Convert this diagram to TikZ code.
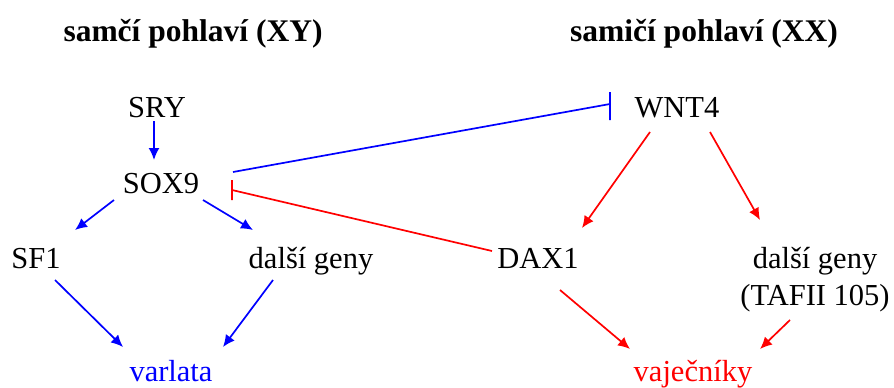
\documentclass[tikz,border=0pt]{standalone}
\usepackage{fontspec}
\setmainfont{Liberation Serif}
\usetikzlibrary{arrows.meta,calc}
\definecolor{gblue}{RGB}{0,0,255}
\definecolor{gred}{RGB}{255,0,0}
\tikzset{
  lbl/.style={anchor=base,inner sep=0pt,font=\fontsize{30.5}{37}\selectfont},
  ttl/.style={anchor=base,inner sep=0pt,font=\fontsize{31.5}{37}\selectfont\bfseries},
  barr/.style={draw=gblue,line width=1.7pt,-{Latex[length=12pt,width=11pt]}},
  rarr/.style={draw=gred,line width=1.7pt,-{Latex[length=12pt,width=11pt]}},
  binh/.style={draw=gblue,line width=1.7pt},
  rinh/.style={draw=gred,line width=1.7pt},
}
\begin{document}
\begin{tikzpicture}[x=1pt,y=-1pt]
\useasboundingbox (0,0) rectangle (894,388);
\node[ttl] (tl) at (193,41) {samčí pohlaví (XY)};
\node[ttl] (tr) at (704,41) {samičí pohlaví (XX)};
\node[lbl] (sry) at (157,117) {SRY};
\node[lbl] (sox9) at (161,193) {SOX9};
\node[lbl] (wnt4) at (677,117) {WNT4};
\node[lbl] (sf1) at (36,268) {SF1};
\node[lbl] (dalsiL) at (311,268) {další geny};
\node[lbl] (dax1) at (538,268) {DAX1};
\node[lbl,align=center] (dalsiR) at (815,305) {další geny\\(TAFII 105)};
\node[lbl,text=gblue] (varlata) at (171,381) {varlata};
\node[lbl,text=gred] (vaj) at (693,381) {vaječníky};
% blue arrows
\draw[barr] ($(sry.base)+(-3,4)$) -- ($(sox9.base)+(-7,-33)$);
\draw[barr] ($(sox9.base)+(-47,7)$) -- ($(sf1.base)+(39,-38)$);
\draw[barr] ($(sox9.base)+(42,7)$) -- ($(dalsiL.base)+(-58,-38)$);
\draw[barr] ($(sf1.base)+(19,12)$) -- ($(varlata.base)+(-48,-34)$);
\draw[barr] ($(dalsiL.base)+(-38,12)$) -- ($(varlata.base)+(52,-34)$);
% blue inhibition SOX9 -| WNT4
\draw[binh] ($(sox9.base)+(72,-21)$) -- ($(wnt4.base)+(-67,-13)$) ++(0,-12) -- ++(0,28);
% red inhibition DAX1 -| SOX9
\draw[rinh] ($(dax1.base)+(-46,-17)$) -- ($(sox9.base)+(71,-3)$) ++(0,-10) -- ++(0,20);
% red arrows
\draw[rarr] ($(wnt4.base)+(-27,15)$) -- ($(dax1.base)+(44,-40)$);
\draw[rarr] ($(wnt4.base)+(33,15)$) -- ($(dalsiR.base)+(-55,-85)$);
\draw[rarr] ($(dax1.base)+(22,22)$) -- ($(vaj.base)+(-63,-32)$);
\draw[rarr] ($(dalsiR.base)+(-25,15)$) -- ($(vaj.base)+(67,-32)$);
\end{tikzpicture}
\end{document}
